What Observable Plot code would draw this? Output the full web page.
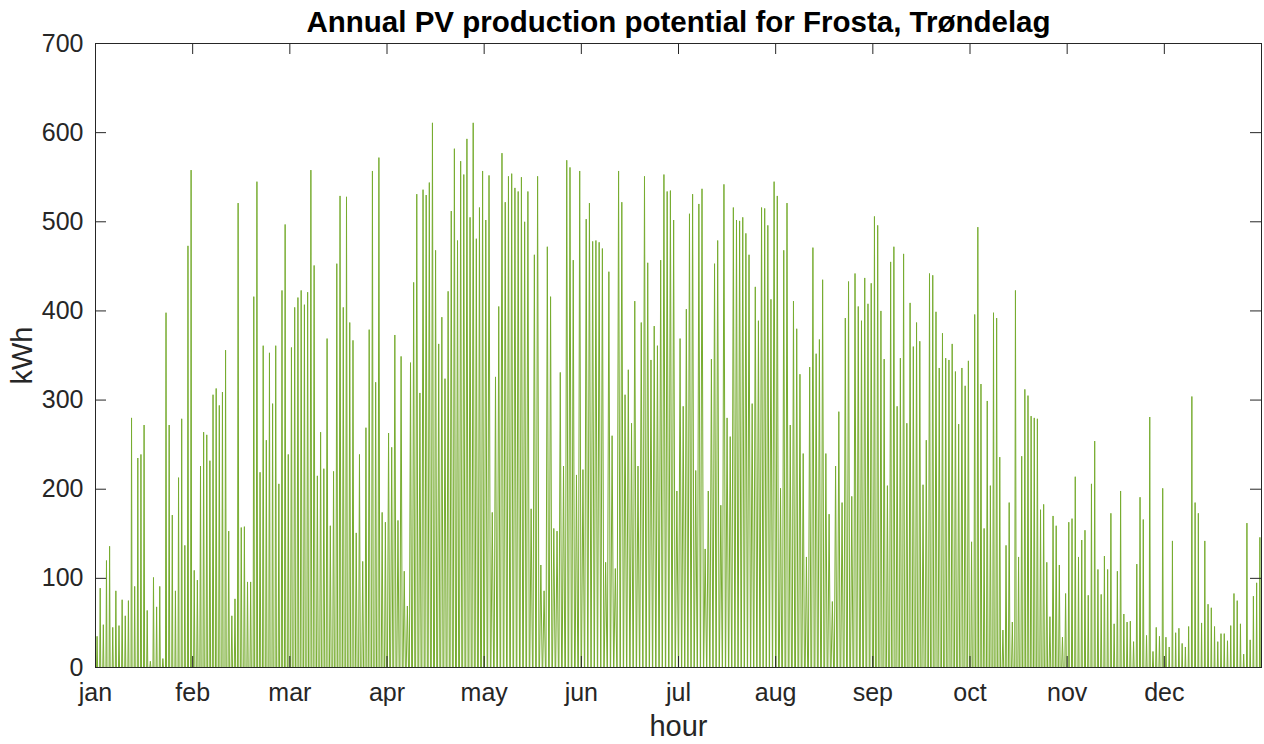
<!DOCTYPE html>
<html><head><meta charset="utf-8">
<script src="https://cdn.jsdelivr.net/npm/d3@7"></script>
<script src="https://cdn.jsdelivr.net/npm/@observablehq/plot@0.6"></script>
<style>body{margin:0;background:#fff}</style>
</head><body><div id="chart"></div>
<script>
const titleText = "Annual PV production potential for Frosta, Trøndelag";
const monthLabels = ["jan","feb","mar","apr","may","jun","jul","aug","sep","oct","nov","dec"];
const yTicks = [0,100,200,300,400,500,600,700];
const hoursPerTick = 730;
const hoursInYear = 8760;

// daily peak production (kWh), one value per day, per tick interval
const janPeaks = [35,89,48,120,136,45,86,47,76,58,75,280,91,235,239,272,64,7,101,68,91,10,398,272,171,86,213,279,137,473,558];
const febPeaks = [109,98,226,264,261,232,306,313,294,309,356,153,58,77,521,157,158,96,96,416,545,219,361,255,353,296,361,206,423,497,239];
const marPeaks = [359,404,415,423,407,421,558,451,215,264,223,369,159,220,453,529,404,528,387,367,151,239,119,269,379,557,320,572,174,163];
const aprPeaks = [263,247,373,165,349,108,69,342,432,531,308,536,530,544,611,468,363,393,324,422,512,582,479,568,553,593,505,611,481,516,557];
const mayPeaks = [502,552,174,326,405,577,522,551,554,538,534,550,500,534,178,463,551,115,86,472,416,156,153,331,226,569,561,457,216,557];
const junPeaks = [222,503,521,478,479,477,470,118,444,260,111,557,522,306,334,274,411,226,387,551,454,345,383,361,457,553,534,535,502,198];
const julPeaks = [369,293,402,509,531,221,520,537,133,198,346,453,479,182,542,280,259,516,502,501,505,487,463,296,427,389,516,515,496,413,545];
const augPeaks = [529,201,468,521,272,411,380,329,240,124,337,471,352,368,435,240,172,74,226,287,185,392,433,192,442,405,389,437,408,431];
const sepPeaks = [506,496,400,346,204,455,472,293,347,464,274,409,360,387,366,205,255,442,440,399,336,375,347,345,363,332,273,336,316,344];
const octPeaks = [141,396,494,318,156,299,204,398,392,236,42,137,185,51,423,124,237,312,305,282,280,279,177,183,118,57,170,159,115,34,83];
const novPeaks = [163,167,214,124,143,154,81,206,254,110,82,125,110,173,49,108,198,60,51,52,29,116,191,166,36,281,18,45,35,201];
const decPeaks = [34,23,142,39,44,27,23,46,304,185,173,50,142,71,67,46,29,38,38,30,47,83,75,49,15,162,31,80,95,146];
// approximate hours of production per day in each interval (width of daily spike)
const productionHours = [8,10,13,17,20,22,21.5,18.5,15,11.5,8.5,6.5];

const segments = [janPeaks,febPeaks,marPeaks,aprPeaks,mayPeaks,junPeaks,julPeaks,augPeaks,sepPeaks,octPeaks,novPeaks,decPeaks];
const pts = [];
segments.forEach((vals, m) => {
  const step = hoursPerTick / vals.length, half = productionHours[m] / 2;
  vals.forEach((v, i) => {
    const c = hoursPerTick * m + (i + 0.5) * step;
    pts.push({h: c - half, kwh: 0}, {h: c, kwh: v}, {h: c + half, kwh: 0});
  });
});
const xTicks = monthLabels.map((_, i) => i * hoursPerTick);

const W = 1264, H = 744, mL = 95, mR = 3, mT = 43, mB = 77;
const innerW = W - mL - mR, innerH = H - mT - mB, tick = 11;
const axisColor = "#262626";

const chart = Plot.plot({
  width: W, height: H,
  marginLeft: mL, marginRight: mR, marginTop: mT, marginBottom: mB,
  style: {fontFamily: "'Liberation Sans', Arial, Helvetica, sans-serif", fontSize: "25px", color: axisColor, background: "#fff"},
  x: {domain: [0, hoursInYear]},
  y: {domain: [0, 700]},
  marks: [
    Plot.line(pts, {x: "h", y: "kwh", stroke: "#77AC30", strokeWidth: 1, clip: true}),
    Plot.frame({stroke: axisColor, strokeWidth: 1}),
    Plot.ruleX(xTicks, {stroke: axisColor, insetTop: innerH - tick}),
    Plot.ruleX(xTicks, {stroke: axisColor, insetBottom: innerH - tick}),
    Plot.ruleY(yTicks, {stroke: axisColor, insetRight: innerW - tick}),
    Plot.ruleY(yTicks, {stroke: axisColor, insetLeft: innerW - tick}),
    Plot.axisX(xTicks, {tickSize: 0, tickPadding: 16, fontSize: 25, fill: axisColor,
      tickFormat: d => monthLabels[Math.round(d / hoursPerTick)], label: null}),
    Plot.axisY(yTicks, {tickSize: 0, tickPadding: 12, fontSize: 25, fill: axisColor, label: null}),
    Plot.text([titleText], {frameAnchor: "top", dy: -21, fontSize: 29.5, fontWeight: "bold", fill: "#000", lineAnchor: "middle"}),
    Plot.text(["kWh"], {frameAnchor: "left", dx: -73, rotate: -90, fontSize: 29, fill: axisColor, textAnchor: "middle", lineAnchor: "middle"}),
    Plot.text(["hour"], {frameAnchor: "bottom", dy: 59, fontSize: 29, fill: axisColor, lineAnchor: "middle"})
  ]
});
document.getElementById("chart").appendChild(chart);
</script>
</body></html>
